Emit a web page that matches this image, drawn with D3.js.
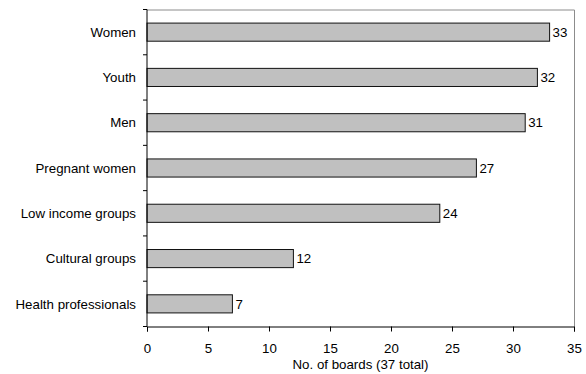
<!DOCTYPE html>
<html>
<head>
<meta charset="utf-8">
<script src="https://cdn.jsdelivr.net/npm/d3@7"></script>
<style>
  body { margin: 0; background: #fff; }
  text { font-family: "Liberation Sans", Arial, sans-serif; }
</style>
</head>
<body>
<div id="chart-area"></div>
<script>
// data
var categories = ["Women", "Youth", "Men", "Pregnant women", "Low income groups", "Cultural groups", "Health professionals"];
var boards = [33, 32, 31, 27, 24, 12, 7];
var xTicks = [0, 5, 10, 15, 20, 25, 30, 35];

var fontSize = "13.3px";

var margin = {top: 9.5, left: 147, bottom: 47.5, right: 12};
var width = 586 - margin.left - margin.right;
var height = 374 - margin.top - margin.bottom;

var svg = d3.select("#chart-area")
  .append("svg")
    .attr("width", 586)
    .attr("height", 374);

var g = svg.append("g")
  .attr("transform", "translate(" + margin.left + "," + margin.top + ")");

// X scale
var x = d3.scaleLinear()
  .domain([0, 35])
  .range([0, width]);

// Y scale
var y = d3.scaleBand()
  .domain(categories)
  .range([0, height])
  .paddingInner(0.6)
  .paddingOuter(0.3);

// plot area border (top + right)
g.append("path")
  .attr("d", "M0,0.5H" + (width + 0.5) + "V" + height)
  .attr("fill", "none")
  .attr("stroke", "#8c8c8c")
  .attr("stroke-width", 1);

// bars
g.selectAll("rect.bar")
  .data(boards)
  .enter()
  .append("rect")
    .attr("class", "bar")
    .attr("x", 0)
    .attr("y", function(d, i){ return y(categories[i]); })
    .attr("width", function(d){ return x(d); })
    .attr("height", y.bandwidth())
    .attr("fill", "#c0c0c0")
    .attr("stroke", "#111")
    .attr("stroke-width", 1);

// value labels
g.selectAll("text.val")
  .data(boards)
  .enter()
  .append("text")
    .attr("class", "val")
    .attr("x", function(d){ return x(d) + 3; })
    .attr("y", function(d, i){ return y(categories[i]) + y.bandwidth() / 2; })
    .attr("dy", "0.35em")
    .attr("font-size", fontSize)
    .attr("fill", "#000")
    .text(function(d){ return d; });

// X axis
var xAxis = g.append("g")
  .attr("transform", "translate(0," + height + ")")
  .call(d3.axisBottom(x).tickValues(xTicks).tickSize(5).tickPadding(12));
xAxis.selectAll("text").attr("font-size", fontSize).attr("fill", "#000")
  .style("font-family", "'Liberation Sans', Arial, sans-serif");
xAxis.select(".domain").attr("stroke", "#000");
xAxis.selectAll("line").attr("stroke", "#000");

// Y axis: ticks at band boundaries
var step = height / categories.length;
var boundaries = d3.range(categories.length + 1).map(function(i){ return i * step; });
var yAxis = g.append("g");
yAxis.append("line")
  .attr("x1", 0).attr("x2", 0)
  .attr("y1", 0).attr("y2", height)
  .attr("stroke", "#000");
yAxis.selectAll("line.tk")
  .data(boundaries)
  .enter()
  .append("line")
    .attr("class", "tk")
    .attr("x1", -4).attr("x2", 0)
    .attr("y1", function(d){ return d; })
    .attr("y2", function(d){ return d; })
    .attr("stroke", "#000");
yAxis.selectAll("text")
  .data(categories)
  .enter()
  .append("text")
    .attr("x", -11)
    .attr("y", function(d){ return y(d) + y.bandwidth() / 2; })
    .attr("dy", "0.35em")
    .attr("text-anchor", "end")
    .attr("font-size", fontSize)
    .attr("fill", "#000")
    .text(function(d){ return d; });

// X label
g.append("text")
  .attr("x", width / 2)
  .attr("y", height + 37.5)
  .attr("dy", "0.35em")
  .attr("text-anchor", "middle")
  .attr("font-size", fontSize)
  .attr("fill", "#000")
  .text("No. of boards (37 total)");
</script>
</body>
</html>
